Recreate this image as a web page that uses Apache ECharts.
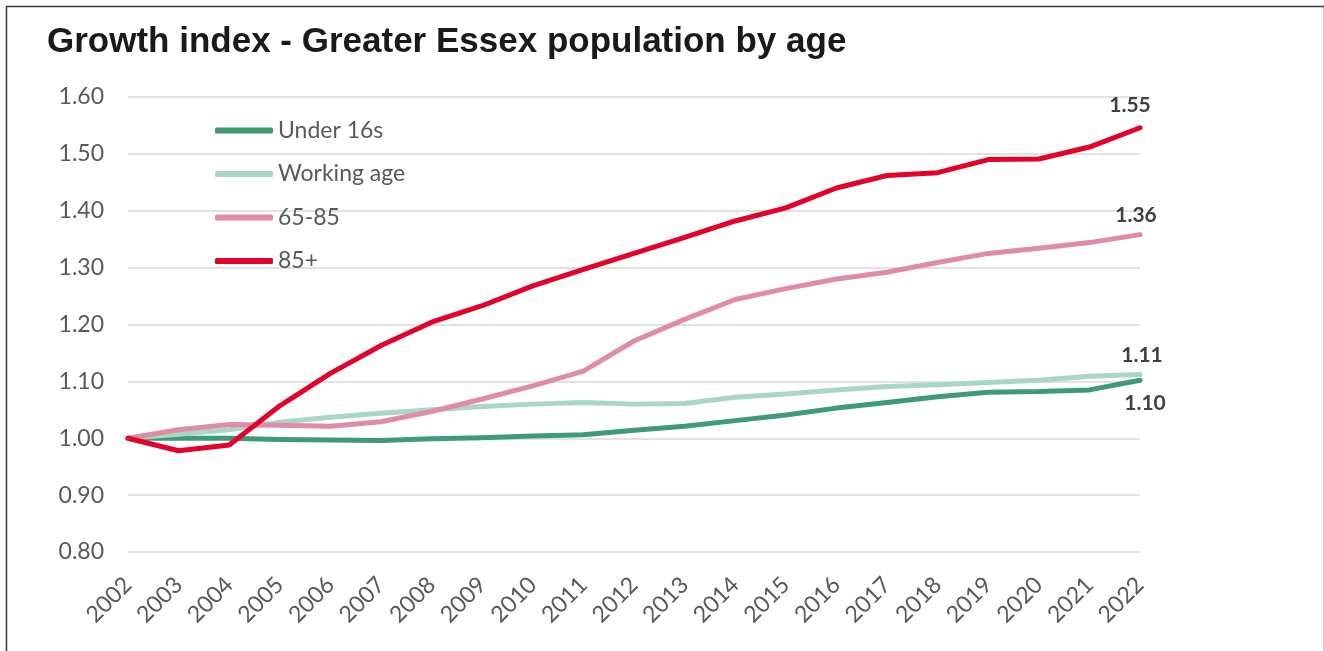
<!DOCTYPE html>
<html>
<head>
<meta charset="utf-8">
<script src="https://cdn.jsdelivr.net/npm/echarts@6/dist/echarts.min.js"></script>
<style>html,body{margin:0;padding:0;background:#fff;}#chart{width:1324px;height:651px;}</style>
</head>
<body>
<div id="chart"></div>
<script>
const years = ['2002','2003','2004','2005','2006','2007','2008','2009','2010','2011','2012','2013','2014','2015','2016','2017','2018','2019','2020','2021','2022'];
const seriesNames = ['Under 16s','Working age','65-85','85+'];
const under16 = [1.000,1.000,1.000,0.998,0.997,0.996,0.999,1.001,1.004,1.006,1.014,1.021,1.031,1.041,1.053,1.063,1.073,1.081,1.082,1.085,1.102];
const workingAge = [1.000,1.007,1.015,1.028,1.037,1.044,1.050,1.056,1.060,1.063,1.060,1.061,1.072,1.078,1.085,1.091,1.094,1.098,1.102,1.109,1.112];
const age6585 = [1.000,1.015,1.024,1.023,1.021,1.029,1.047,1.069,1.092,1.118,1.171,1.209,1.244,1.263,1.280,1.292,1.309,1.325,1.334,1.344,1.358];
const age85plus = [1.000,0.978,0.988,1.057,1.114,1.163,1.204,1.233,1.268,1.297,1.325,1.353,1.382,1.405,1.440,1.462,1.467,1.490,1.491,1.512,1.546];
const yTicks = [0.80,0.90,1.00,1.10,1.20,1.30,1.40,1.50,1.60];

const colors = ['#3f9a76','#a8d8c4','#e08ba8','#e4002b'];
const allData = [under16, workingAge, age6585, age85plus];
const endLabelCfg = [
  {position:'bottom', distance:12, offset:[5,0]},
  {position:'top', distance:8, offset:[2,0]},
  {position:'top', distance:8, offset:[-4,0]},
  {position:'top', distance:11, offset:[-10,0]}
];

const chart = echarts.init(document.getElementById('chart'));
const series = allData.map((arr, si) => ({
  name: seriesNames[si],
  type: 'line',
  symbol: 'circle',
  symbolSize: 1,
  showSymbol: true,
  showAllSymbol: true,
  smooth: false,
  lineStyle: {width: 5, color: colors[si], join: 'round', cap: 'round'},
  itemStyle: {color: colors[si]},
  label: {show: false},
  data: arr.map((v, i) => i === arr.length - 1 ? {
    value: v,
    label: Object.assign({
      show: true,
      formatter: (p) => Number(p.value).toFixed(2),
      fontFamily: 'Lato', fontWeight: 'bold', fontSize: 21, color: '#404040'
    }, endLabelCfg[si])
  } : v),
  emphasis: {disabled: true}
}));

chart.setOption({
  animation: false,
  backgroundColor: '#ffffff',
  title: {
    text: 'Growth index - Greater Essex population by age',
    left: 42, top: 20,
    textStyle: {fontFamily: 'Liberation Sans', fontWeight: 'bold', fontSize: 35, color: '#1a1a1a'}
  },
  graphic: [{
    type: 'rect', left: 4, top: 4,
    shape: {width: 1318, height: 700},
    style: {fill: 'none', stroke: '#3a3a3a', lineWidth: 1.5},
    silent: true
  }],
  legend: {
    orient: 'vertical', left: 210, top: 114,
    itemWidth: 58, itemHeight: 6, itemGap: 20.5,
    icon: 'roundRect',
    data: seriesNames,
    textStyle: {fontFamily: 'Lato', fontSize: 23, color: '#595959'}
  },
  grid: {left: 128, right: 184, top: 97, bottom: 99, containLabel: false},
  xAxis: {
    type: 'category', data: years, boundaryGap: false,
    axisLine: {show: false}, axisTick: {show: false},
    axisLabel: {rotate: 45, margin: 29, fontFamily: 'Lato', fontSize: 23, color: '#595959', interval: 0}
  },
  yAxis: {
    type: 'value', min: yTicks[0], max: yTicks[yTicks.length-1], interval: 0.1,
    axisLine: {show: false}, axisTick: {show: false},
    axisLabel: {margin: 24, fontFamily: 'Lato', fontSize: 23, color: '#595959', formatter: (v) => v.toFixed(2)},
    splitLine: {lineStyle: {color: '#d9d9d9', width: 1.5}}
  },
  series: series
});
</script>
</body>
</html>
